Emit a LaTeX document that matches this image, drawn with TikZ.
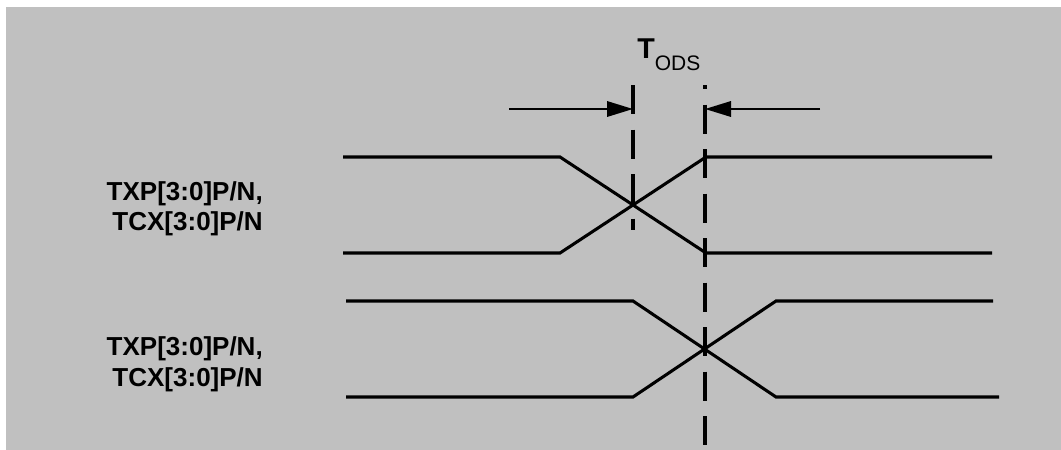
\documentclass[tikz,border=0pt]{standalone}
\usepackage{fontspec}
\setmainfont{Liberation Sans}
\usetikzlibrary{arrows.meta}
\definecolor{bggray}{HTML}{C0C0C0}
\tikzset{
  wave/.style={line width=2.3pt, line join=miter},
  marker/.style={line width=2.3pt, dash pattern=on 21.9pt off 11.5pt},
  dimarrow/.style={line width=1.7pt, -{Triangle[length=19.5pt,width=11.5pt]}},
  siglabel/.style={anchor=base east, inner sep=0pt, font=\fontsize{19.5}{23}\selectfont\bfseries}
}
\begin{document}
\begin{tikzpicture}[x=0.75pt,y=-0.75pt]
\useasboundingbox (0,0) rectangle (1061,450);
\fill[bggray] (6,7) rectangle (1061,450);

% T_ODS label
\node[anchor=base west, inner sep=0pt] (tods) at (637,58)
  {\fontsize{21.5}{21.5}\selectfont\bfseries T\raisebox{-9pt}{\fontsize{15.75}{16}\selectfont\mdseries ODS}};

% marker (dashed) lines
\coordinate (dLtop) at (633,85);
\coordinate (dLbot) at (633,230);
\coordinate (dRtop) at (705,85);
\coordinate (dRbot) at (705,448);
\draw[marker] (dLtop) -- (dLbot);
\draw[marker, dash phase=18.75pt] (dRtop) -- (dRbot);

% dimension arrows
\coordinate (aLs) at (509,109);
\coordinate (aLt) at (633,109);
\coordinate (aRs) at (820,109);
\coordinate (aRt) at (705,109);
\draw[dimarrow] (aLs) -- (aLt);
\draw[dimarrow] (aRs) -- (aRt);

% upper waveform pair
\draw[wave] (343,157) -- (560,157) -- (706,253) -- (992,253);
\draw[wave] (343,253) -- (560,253) -- (706,157) -- (992,157);

% lower waveform pair
\draw[wave] (346,301) -- (633,301) -- (776,397) -- (999,397);
\draw[wave] (346,397) -- (633,397) -- (776,301) -- (993,301);

% signal labels
\node[siglabel] (l1a) at (263,200) {TXP[3:0]P/N,};
\node[siglabel] (l1b) at (263,230) {TCX[3:0]P/N};
\node[siglabel] (l2a) at (263,355) {TXP[3:0]P/N,};
\node[siglabel] (l2b) at (263,386) {TCX[3:0]P/N};
\end{tikzpicture}
\end{document}
